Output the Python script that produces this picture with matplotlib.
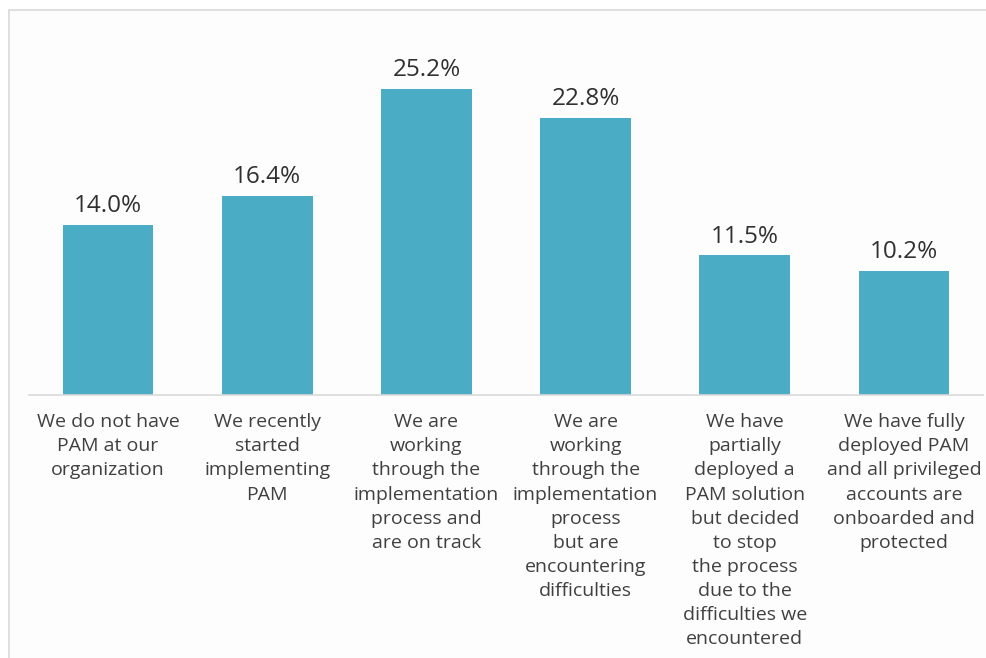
import matplotlib
matplotlib.use("Agg")
import matplotlib.pyplot as plt
from matplotlib.patches import Rectangle

categories = [
    "We do not have\nPAM at our\norganization",
    "We recently\nstarted\nimplementing\nPAM",
    "We are\nworking\nthrough the\nimplementation\nprocess and\nare on track",
    "We are\nworking\nthrough the\nimplementation\nprocess\nbut are\nencountering\ndifficulties",
    "We have\npartially\ndeployed a\nPAM solution\nbut decided\nto stop\nthe process\ndue to the\ndifficulties we\nencountered",
    "We have fully\ndeployed PAM\nand all privileged\naccounts are\nonboarded and\nprotected",
]
values = [14.0, 16.4, 25.2, 22.8, 11.5, 10.2]
value_labels = ["14.0%", "16.4%", "25.2%", "22.8%", "11.5%", "10.2%"]

bar_color = "#4AACC5"
text_color = "#404040"
font = ["Open Sans", "DejaVu Sans"]

fig = plt.figure(figsize=(9.87, 6.58), dpi=100)
fig.patch.set_facecolor("white")

# light frame around the plot area
fig.patches.append(Rectangle((9 / 987, -0.1), 1.2, (658 - 10) / 658 + 0.1,
                             transform=fig.transFigure, fill=True,
                             facecolor="#FDFDFD", edgecolor="#D9D9D9",
                             linewidth=1.2, zorder=-10))

ax = fig.add_axes([28.5 / 987, 263 / 658, 955 / 987, 364 / 658])
ax.set_facecolor("none")

x = range(len(values))
ax.bar(x, values, width=0.57, color=bar_color, zorder=2)
ax.set_xlim(-0.5, len(values) - 0.5)
ax.set_ylim(0, 30)

for xi, v, lab in zip(x, values, value_labels):
    ax.annotate(lab, (xi, v), xytext=(0, 5), textcoords="offset points",
                ha="center", va="bottom", fontsize=17.5, color="#303030",
                family=font)

ax.set_xticks(list(x))
ax.set_xticklabels(categories, fontsize=14, color=text_color, family=font,
                   linespacing=1.44, va="top")
ax.tick_params(axis="x", length=0, pad=13)
ax.set_yticks([])
for s in ["top", "left", "right"]:
    ax.spines[s].set_visible(False)
ax.spines["bottom"].set_color("#D9D9D9")
ax.spines["bottom"].set_linewidth(1.2)

fig.savefig("out.png", dpi=100, facecolor="white")
